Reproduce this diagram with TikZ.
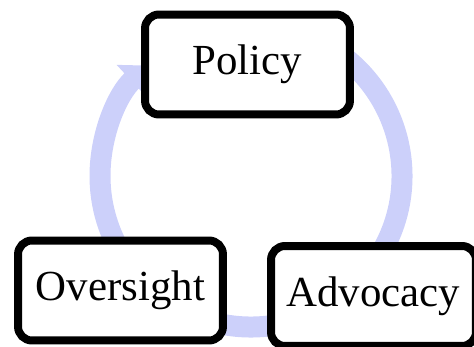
\documentclass[tikz,border=0pt]{standalone}
\usepackage{fontspec}
\setmainfont{Liberation Serif}
\usetikzlibrary{calc,arrows.meta}
\definecolor{cyclefill}{RGB}{204,208,250}
\tikzset{
  stagebox/.style={draw=black, fill=white, line width=0.16cm, rounded corners=0.28cm,
    minimum width=4.1cm, minimum height=2cm, inner sep=0pt,
    font=\fontsize{24.4}{29}\selectfont},
  cyclearrow/.style={draw=cyclefill, line width=0.42cm,
    -{Triangle[width=0.85cm, length=0.45cm]}}
}

\begin{document}
\begin{tikzpicture}[x=0.02cm, y=0.02cm]
			%%%%% START %%%%%
			
			\useasboundingbox (0, 0) rectangle (474, 346);
			\clip (0, 0) rectangle (474, 346);
			
			\coordinate (hub) at (251, 170);
			\draw[cyclearrow] ($(hub)+(60:151)$) arc (60:-227:151);
			
			\node[stagebox] (policy) at (247.5, 281.5) {Policy};
			\node[stagebox] (oversight) at (120.5, 55.5) {Oversight};
			\node[stagebox] (advocacy) at (373.5, 50) {Advocacy};
			
			%%%%% END %%%%%
		\end{tikzpicture}
\end{document}
